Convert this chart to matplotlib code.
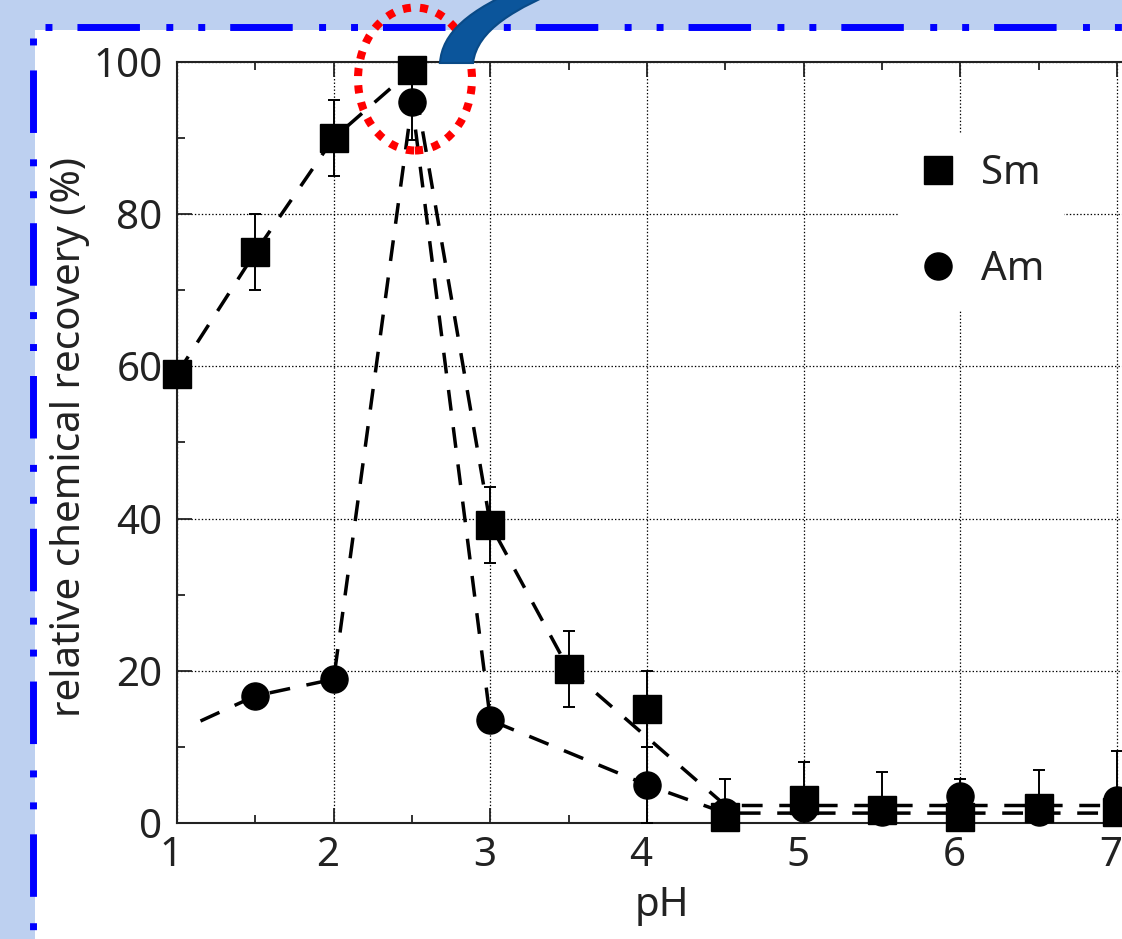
import matplotlib
matplotlib.use("Agg")
import matplotlib.pyplot as plt
from matplotlib.lines import Line2D
from matplotlib.patches import Ellipse, PathPatch, Rectangle
from matplotlib.path import Path
from matplotlib.ticker import MultipleLocator
import matplotlib.transforms as mtransforms

# data
ph = [1, 1.5, 2, 2.5, 3, 3.5, 4, 4.5, 5, 5.5, 6, 6.5, 7]
sm = [59, 75, 90, 99, 39.2, 20.2, 15, 0.8, 3, 1.7, 0.8, 2, 1.5]
sm_err = [0, 5, 5, 5, 5, 5, 5, 5, 5, 5, 5, 5, 8]

am_ph = [1.5, 2, 2.5, 3, 4, 4.5, 5, 5.5, 6, 6.5, 7]
am = [16.7, 18.9, 94.7, 13.5, 5.0, 1.5, 2, 1.5, 3.5, 1.5, 3]
am_err = [0, 0, 5, 0, 5, 0, 0, 0, 0, 0, 0]

# dashed guide curves
sm_line_ph = [1, 1.5, 2, 2.5, 3, 3.5, 4.5, 8]
sm_line = [59, 75, 90, 99, 39.2, 20.2, 2.3, 2.3]
am_line_ph = [1.15, 1.5, 2, 2.5, 3, 4, 4.5, 8]
am_line = [13.4, 16.7, 18.9, 94.7, 13.5, 5.0, 1.3, 1.3]

W, H = 1122, 939
plt.rcParams["font.family"] = ["Noto Sans", "DejaVu Sans"]
plt.rcParams["lines.scale_dashes"] = False

fig = plt.figure(figsize=(W / 100, H / 100), dpi=100, facecolor="#BDD0F0")


def fx(x):
    return x / W


def fy(y):
    return 1 - y / H


# white slide panel + blue dash-dot frame
fig.add_artist(Rectangle((fx(35), 0), 1, fy(30), transform=fig.transFigure,
                         facecolor="white", edgecolor="none", zorder=0))
frame_dash = (0, (5, 18, 45, 19, 5, 18))
fig.add_artist(Line2D([fx(45), 1], [fy(27), fy(27)], transform=fig.transFigure,
                      color="#0000FF", lw=5, linestyle=frame_dash, zorder=1))
fig.add_artist(Line2D([fx(32.5), fx(32.5)], [fy(38), 0], transform=fig.transFigure,
                      color="#0000FF", lw=5, linestyle=frame_dash, zorder=1))

ax = fig.add_axes([fx(177), fy(823), 7 * 156.7 / W, (823 - 62) / H])
ax.set_facecolor("white")
ax.set_xlim(1, 8)
ax.set_ylim(0, 100)

ax.grid(True, which="major", color="black", linestyle=(0, (1, 1.5)), lw=0.9)
ax.set_axisbelow(True)

dash = (0, (15, 12))
ax.plot(sm_line_ph, sm_line, color="black", lw=2.5, linestyle=dash, zorder=3)
ax.plot(am_line_ph, am_line, color="black", lw=2.5, linestyle=dash, zorder=3)

ax.errorbar(ph, sm, yerr=sm_err, fmt="none", ecolor="black", elinewidth=1.4,
            capsize=4.3, capthick=1.4, zorder=4)
ax.errorbar(am_ph, am, yerr=am_err, fmt="none", ecolor="black", elinewidth=1.4,
            capsize=4.3, capthick=1.4, zorder=4)
ax.plot(ph, sm, "s", color="black", ms=19.5, zorder=5, clip_on=False)
ax.plot(am_ph, am, "o", color="black", ms=19.5, zorder=5, clip_on=False)

ax.xaxis.set_major_locator(MultipleLocator(1))
ax.xaxis.set_minor_locator(MultipleLocator(0.5))
ax.yaxis.set_major_locator(MultipleLocator(20))
ax.yaxis.set_minor_locator(MultipleLocator(10))
ax.tick_params(which="both", direction="in", top=True, right=True, width=1.3,
               colors="#222222", labelsize=29)
ax.tick_params(which="major", length=11)
ax.tick_params(which="minor", length=5.5)
ax.tick_params(axis="x", pad=9)
ax.tick_params(axis="y", pad=10.5)
for sp in ax.spines.values():
    sp.set_linewidth(1.5)
    sp.set_color("#222222")

shift = mtransforms.ScaledTranslation(-6 / 100, 0, fig.dpi_scale_trans)
for lab in ax.get_xticklabels():
    lab.set_transform(lab.get_transform() + shift)

ax.set_xlabel("pH", fontsize=29, color="#222222")
ax.xaxis.set_label_coords((662 - 177) / (7 * 156.7), (823 - 886) / 761)
ax.set_ylabel("relative chemical recovery (%)", fontsize=29, color="#222222")
ax.yaxis.set_label_coords((90 - 177) / (7 * 156.7), (823 - 437) / 761)

handles = [Line2D([], [], marker="s", color="black", ls="none", ms=19.5),
           Line2D([], [], marker="o", color="black", ls="none", ms=19.5)]
leg = ax.legend(handles, ["Sm", "Am"], loc="upper left",
                bbox_to_anchor=(fx(898), fy(134)), bbox_transform=fig.transFigure,
                borderaxespad=0, fontsize=29, frameon=True, fancybox=False,
                framealpha=1, edgecolor="none", facecolor="white",
                handlelength=1.0, handletextpad=0.55, labelspacing=1.38,
                borderpad=0.5)
for t in leg.get_texts():
    t.set_color("#222222")

# red dotted highlight and blue callout band
fig.add_artist(Ellipse((fx(415), fy(79)), 114 / W, 143 / H, transform=fig.transFigure,
                       fill=False, edgecolor="#FF0000", lw=5.8,
                       linestyle=(0, (5.8, 6.6)), zorder=5))
band = Path([(fx(440), fy(63)), (fx(442), fy(33)), (fx(468), fy(10)), (fx(525), fy(-14)),
             (fx(570), fy(-14)), (fx(515), fy(8)), (fx(477), fy(30)), (fx(473), fy(63)),
             (fx(440), fy(63))],
            [Path.MOVETO, Path.CURVE4, Path.CURVE4, Path.CURVE4,
             Path.LINETO, Path.CURVE4, Path.CURVE4, Path.CURVE4, Path.CLOSEPOLY])
fig.add_artist(PathPatch(band, transform=fig.transFigure, facecolor="#0B559B",
                         edgecolor="#094A87", lw=1.5, zorder=6))

fig.savefig("out.png", dpi=100, facecolor=fig.get_facecolor())
